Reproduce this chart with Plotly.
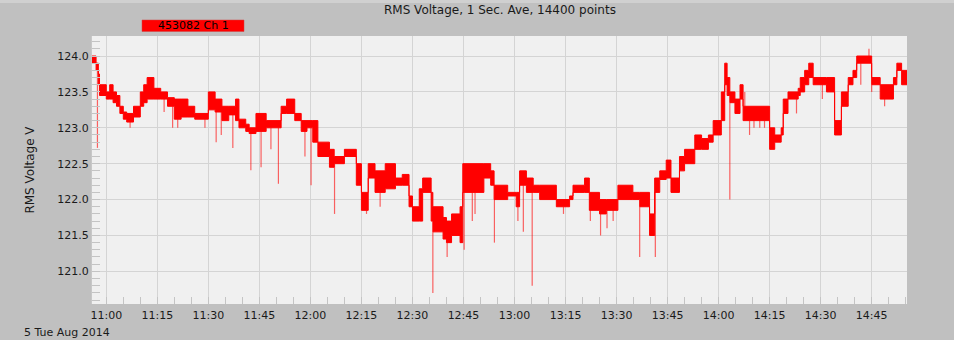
import plotly.graph_objects as go

DAY = "2014-08-05 "

# Band of the 1-second RMS readings: time a level starts, upper and lower edge (V)
band_times = ["10:55:48", "10:57:00", "10:57:40", "10:58:00", "11:00:00", "11:01:00", "11:02:00",
              "11:03:00", "11:04:00", "11:05:00", "11:06:00", "11:08:00", "11:10:00", "11:11:00",
              "11:12:00", "11:14:00", "11:16:00", "11:18:00", "11:20:00", "11:22:00", "11:24:00",
              "11:26:00", "11:30:00", "11:32:00", "11:34:00", "11:36:00", "11:38:00", "11:39:00",
              "11:41:00", "11:42:00", "11:44:00", "11:47:00", "11:51:24", "11:53:00", "11:55:24",
              "11:57:18", "11:59:00", "12:00:42", "12:02:12", "12:05:36", "12:07:00", "12:10:00",
              "12:13:30", "12:15:00", "12:17:00", "12:19:00", "12:22:00", "12:25:00", "12:27:00",
              "12:29:00", "12:30:00", "12:32:00", "12:33:00", "12:35:30", "12:36:00", "12:39:00",
              "12:40:00", "12:41:30", "12:44:00", "12:44:48", "12:51:00", "12:53:00", "12:54:00",
              "12:58:00", "13:00:30", "13:01:30", "13:03:30", "13:05:30", "13:07:24", "13:12:18",
              "13:16:12", "13:17:12", "13:20:36", "13:22:00", "13:25:00", "13:27:00", "13:30:24",
              "13:34:48", "13:36:48", "13:39:42", "13:41:12", "13:42:42", "13:44:36", "13:46:00",
              "13:48:30", "13:50:00", "13:53:00", "13:55:00", "13:57:00", "13:58:24", "14:00:48",
              "14:01:48", "14:02:30", "14:03:18", "14:04:48", "14:06:18", "14:07:12", "14:15:00",
              "14:16:30", "14:18:24", "14:19:00", "14:20:24", "14:23:24", "14:24:00", "14:25:18",
              "14:26:30", "14:27:48", "14:31:42", "14:34:06", "14:36:06", "14:38:06", "14:39:30",
              "14:40:36", "14:45:00", "14:47:30", "14:51:24", "14:52:24", "14:53:48", "14:55:23"]
band_hi = [124.0, 123.9, 123.75, 123.6, 123.5, 123.6, 123.5,
           123.45, 123.3, 123.22, 123.2, 123.3, 123.5, 123.6,
           123.7, 123.55, 123.5, 123.42, 123.4, 123.4, 123.3,
           123.2, 123.5, 123.4, 123.3, 123.3, 123.4, 123.12,
           123.05, 123.0, 123.2, 123.1, 123.3, 123.4, 123.2,
           123.1, 123.1, 123.1, 122.8, 122.7, 122.6, 122.7,
           122.5, 122.1, 122.5, 122.4, 122.5, 122.3, 122.35,
           122.05, 121.9, 122.15, 122.3, 122.1, 121.9, 121.75,
           121.7, 121.8, 121.9, 122.5, 122.5, 122.4, 122.2,
           122.1, 122.1, 122.4, 122.3, 122.2, 122.2, 122.0,
           122.05, 122.2, 122.3, 122.1, 122.0, 122.0, 122.2,
           122.1, 122.1, 121.8, 122.3, 122.4, 122.55, 122.3,
           122.6, 122.7, 122.9, 122.85, 122.9, 123.1, 123.5,
           123.9, 123.7, 123.5, 123.4, 123.6, 123.3, 123.0,
           122.9, 123.0, 123.4, 123.5, 123.55, 123.7, 123.8,
           123.9, 123.7, 123.7, 123.1, 123.5, 123.7, 123.8,
           124.0, 123.7, 123.6, 123.7, 123.9, 123.8, 123.8]
band_lo = [123.9, 123.8, 123.6, 123.45, 123.4, 123.4, 123.35,
           123.3, 123.2, 123.12, 123.08, 123.15, 123.3, 123.35,
           123.4, 123.4, 123.4, 123.3, 123.12, 123.15, 123.15,
           123.12, 123.25, 123.22, 123.1, 123.18, 123.1, 123.0,
           122.95, 122.92, 122.95, 123.0, 123.2, 123.2, 123.1,
           122.95, 123.0, 122.8, 122.6, 122.45, 122.5, 122.6,
           122.2, 121.85, 122.3, 122.1, 122.15, 122.2, 122.2,
           121.9, 121.7, 121.7, 122.1, 121.7, 121.55, 121.45,
           121.4, 121.5, 121.4, 122.1, 122.3, 122.2, 122.0,
           122.05, 121.9, 122.2, 122.1, 122.1, 122.0, 121.9,
           122.0, 122.1, 122.1, 121.85, 121.8, 121.85, 122.0,
           122.0, 121.9, 121.5, 122.1, 122.28, 122.3, 122.1,
           122.4, 122.5, 122.7, 122.7, 122.8, 122.9, 123.1,
           123.6, 123.45, 123.35, 123.2, 123.4, 123.1, 122.7,
           122.8, 122.9, 123.2, 123.4, 123.45, 123.5, 123.6,
           123.7, 123.6, 123.5, 122.9, 123.3, 123.6, 123.7,
           123.9, 123.6, 123.4, 123.6, 123.8, 123.6, 123.6]

# Brief excursions (spikes) away from the band
spike_times = ["10:57:24", "11:07:00", "11:17:00", "11:19:30", "11:21:00", "11:29:00", "11:32:18",
               "11:33:48", "11:37:12", "11:42:30", "11:45:30", "11:48:24", "11:50:36", "11:58:24",
               "12:00:12", "12:07:06", "12:16:30", "12:20:30", "12:36:00", "12:40:12", "12:45:12",
               "12:47:36", "12:48:24", "12:54:06", "13:01:00", "13:02:36", "13:05:12", "13:14:24",
               "13:22:18", "13:25:18", "13:27:12", "13:29:00", "13:36:48", "13:41:24", "14:03:18",
               "14:07:42", "14:09:06", "14:10:24", "14:12:06", "14:13:30", "14:22:54", "14:30:30",
               "14:41:48", "14:44:12", "14:45:00", "14:48:48"]
spike_values = [122.72, 123.0, 123.22, 123.0, 123.0, 123.0, 122.8,
                122.9, 122.72, 122.41, 122.45, 122.7, 122.22, 122.6,
                122.2, 121.8, 121.8, 121.9, 120.7, 121.2, 121.3,
                121.7, 121.8, 121.4, 121.7, 121.55, 120.8, 121.8,
                121.7, 121.5, 121.6, 121.7, 121.2, 121.2, 122.0,
                123.5, 122.9, 123.0, 123.0, 123.0, 123.2, 123.4,
                123.6, 124.1, 123.5, 123.3]

y_ticks = [121.0, 121.5, 122.0, 122.5, 123.0, 123.5, 124.0]
x_tick_labels = ["11:00", "11:15", "11:30", "11:45", "12:00", "12:15", "12:30", "12:45",
                 "13:00", "13:15", "13:30", "13:45", "14:00", "14:15", "14:30", "14:45"]


def secs(s):
    h, m, sec = (int(p) for p in s.split(":"))
    return h * 3600 + m * 60 + sec


band_x = [DAY + t for t in band_times]
band_sec = [secs(t) for t in band_times]


def band_at(t):
    s = secs(t)
    idx = 0
    for i, bs in enumerate(band_sec):
        if bs <= s:
            idx = i
    return idx


sx, sy = [], []
for t, v in zip(spike_times, spike_values):
    i = band_at(t)
    base = band_lo[i] if v < band_lo[i] else band_hi[i]
    sx += [DAY + t, DAY + t, None]
    sy += [base, v, None]

RED = "#ff0000"
fig = go.Figure()
fig.add_trace(go.Scatter(x=band_x, y=band_hi, mode="lines", line=dict(color=RED, width=1, shape="hv"),
                         hoverinfo="skip", showlegend=False))
fig.add_trace(go.Scatter(x=band_x, y=band_lo, mode="lines", line=dict(color=RED, width=1, shape="hv"),
                         fill="tonexty", fillcolor=RED, hoverinfo="skip", showlegend=False))
fig.add_trace(go.Scatter(x=sx, y=sy, mode="lines", line=dict(color="rgba(255,0,0,0.6)", width=1.2),
                         hoverinfo="skip", showlegend=False, connectgaps=False))

FONT = "DejaVu Sans"
GRID = "#d4d4d4"
TICK = "#c4c4c4"

fig.update_layout(
    width=954, height=340,
    margin=dict(l=92, r=47, t=36, b=36),
    paper_bgcolor="#c0c0c0", plot_bgcolor="#f0f0f0",
    font=dict(family=FONT, size=11, color="#1a1a1a"),
    showlegend=False,
    xaxis=dict(
        type="date",
        range=[DAY + "10:55:48", DAY + "14:55:23"],
        tickmode="array",
        tickvals=[DAY + t + ":00" for t in x_tick_labels],
        ticktext=x_tick_labels,
        showgrid=True, gridcolor=GRID, gridwidth=1,
        ticks="inside", ticklen=7, tickcolor=TICK,
        minor=dict(dtick=5 * 60 * 1000, tick0=DAY + "11:00:00", ticks="inside", ticklen=7,
                   tickcolor=TICK, showgrid=False),
        showline=False, zeroline=False,
        tickfont=dict(size=11),
        ticklabelstandoff=3,
    ),
    yaxis=dict(
        range=[120.545, 124.279],
        tickmode="array",
        tickvals=y_ticks,
        ticktext=[f"{v:.1f}" for v in y_ticks],
        showgrid=True, gridcolor=GRID, gridwidth=1,
        ticks="inside", ticklen=8, tickcolor=TICK,
        minor=dict(dtick=0.1, tick0=121.0, ticks="inside", ticklen=8, tickcolor=TICK, showgrid=False),
        showline=True, linecolor="#c8c8c8", linewidth=1,
        zeroline=False,
        title=dict(text="RMS Voltage V", font=dict(size=12), standoff=20),
        tickfont=dict(size=11),
    ),
    shapes=[
        dict(type="rect", xref="paper", yref="paper", x0=-92 / 815, x1=862 / 815,
             y0=(304 - 3) / 268, y1=(304 + 1) / 268 + 36 / 268, fillcolor="#d0d0d0", line=dict(width=0),
             layer="below"),
        dict(type="rect", xref="paper", yref="paper", x0=(142 - 92) / 815, x1=(244 - 92) / 815,
             y0=(304 - 31.5) / 268, y1=(304 - 20) / 268, fillcolor=RED,
             line=dict(color="#d04040", width=0.5)),
    ],
    annotations=[
        dict(text="RMS Voltage, 1 Sec. Ave, 14400 points", xref="paper", yref="paper",
             x=0.5, y=(304 - 9.5) / 268, xanchor="center", yanchor="middle", showarrow=False,
             font=dict(size=12, color="#1a1a1a")),
        dict(text="453082 Ch 1", xref="paper", yref="paper",
             x=(193 - 92) / 815, y=(304 - 25.5) / 268, xanchor="center", yanchor="middle",
             showarrow=False, font=dict(size=11, color="#000000")),
        dict(text="5 Tue Aug 2014", xref="paper", yref="paper",
             x=(22 - 92) / 815, y=(304 - 332) / 268, xanchor="left", yanchor="middle",
             showarrow=False, font=dict(size=11, color="#1a1a1a")),
    ],
)

fig.write_html("out.html")
